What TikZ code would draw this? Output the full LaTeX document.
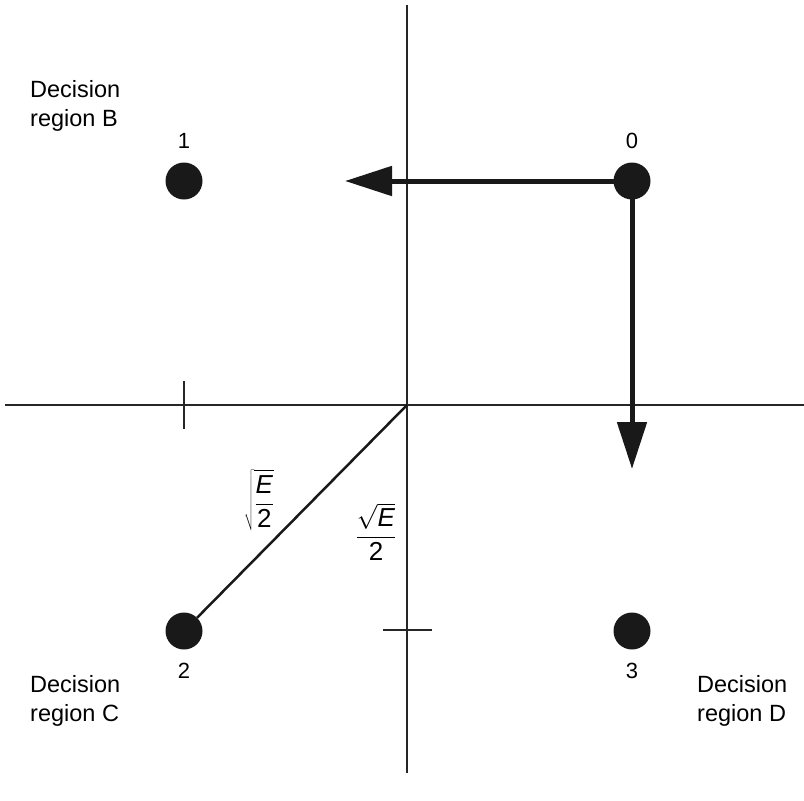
\documentclass[tikz,border=0pt]{standalone}
\usepackage{fontspec}
\setmainfont{Liberation Sans}
\usetikzlibrary{arrows.meta}
\tikzset{
  axis/.style={line width=2.8pt, black!85},
  tick/.style={line width=2.8pt, black!85},
  dot/.style={circle, fill=black!90, minimum size=37pt, inner sep=0pt},
  lbl/.style={font=\fontsize{22}{29}\selectfont, inner sep=0pt},
  mathlbl/.style={font=\fontsize{26}{30}\selectfont, inner sep=0pt},
  region/.style={font=\fontsize{23.5}{29}\selectfont, align=left, inner sep=0pt, anchor=north west},
  vec/.style={line width=5pt, black!90, -{Triangle[length=47pt,width=29pt]}},
  diag/.style={line width=2.5pt, black!90}
}
\begin{document}
\begin{tikzpicture}[x=1pt,y=-1pt]
\useasboundingbox (0,0) rectangle (804,801);
% axes
\coordinate (o) at (407,405);
\coordinate (xl) at (5,405);
\coordinate (xr) at (804,405);
\coordinate (yt) at (407,5);
\coordinate (yb) at (407,773);
\draw[axis] (xl) -- (xr);
\draw[axis] (yt) -- (yb);
% ticks
\coordinate (t1a) at (184,381);
\coordinate (t1b) at (184,429);
\coordinate (t2a) at (383,630);
\coordinate (t2b) at (432,630);
\draw[tick] (t1a) -- (t1b);
\draw[tick] (t2a) -- (t2b);
% dots
\node[dot] (d0) at (632,181) {};
\node[dot] (d1) at (184,181) {};
\node[dot] (d2) at (184,631) {};
\node[dot] (d3) at (632,631) {};
% numbers
\node[lbl] (n0) at (632,141) {0};
\node[lbl] (n1) at (184,141) {1};
\node[lbl] (n2) at (184,671) {2};
\node[lbl] (n3) at (632,671) {3};
% arrows
\coordinate (a1) at (345,181);
\coordinate (a2) at (632,469);
\draw[vec] (d0.center) -- (a1);
\draw[vec] (d0.center) -- (a2);
% diagonal
\draw[diag] (o) -- (d2);
% math labels
\node[mathlbl] (m1) at (259,500) {$\displaystyle\sqrt{\frac{\mbox{\itshape E}}{\mbox{2}}}$};
\node[mathlbl] (m2) at (376,532) {$\displaystyle\frac{\sqrt{\mbox{\itshape E}}}{\mbox{2}}$};
% regions
\node[region] (rB) at (30,80) {Decision\\region B};
\node[region] (rC) at (30,675) {Decision\\region C};
\node[region] (rD) at (697,675) {Decision\\region D};
\end{tikzpicture}
\end{document}
